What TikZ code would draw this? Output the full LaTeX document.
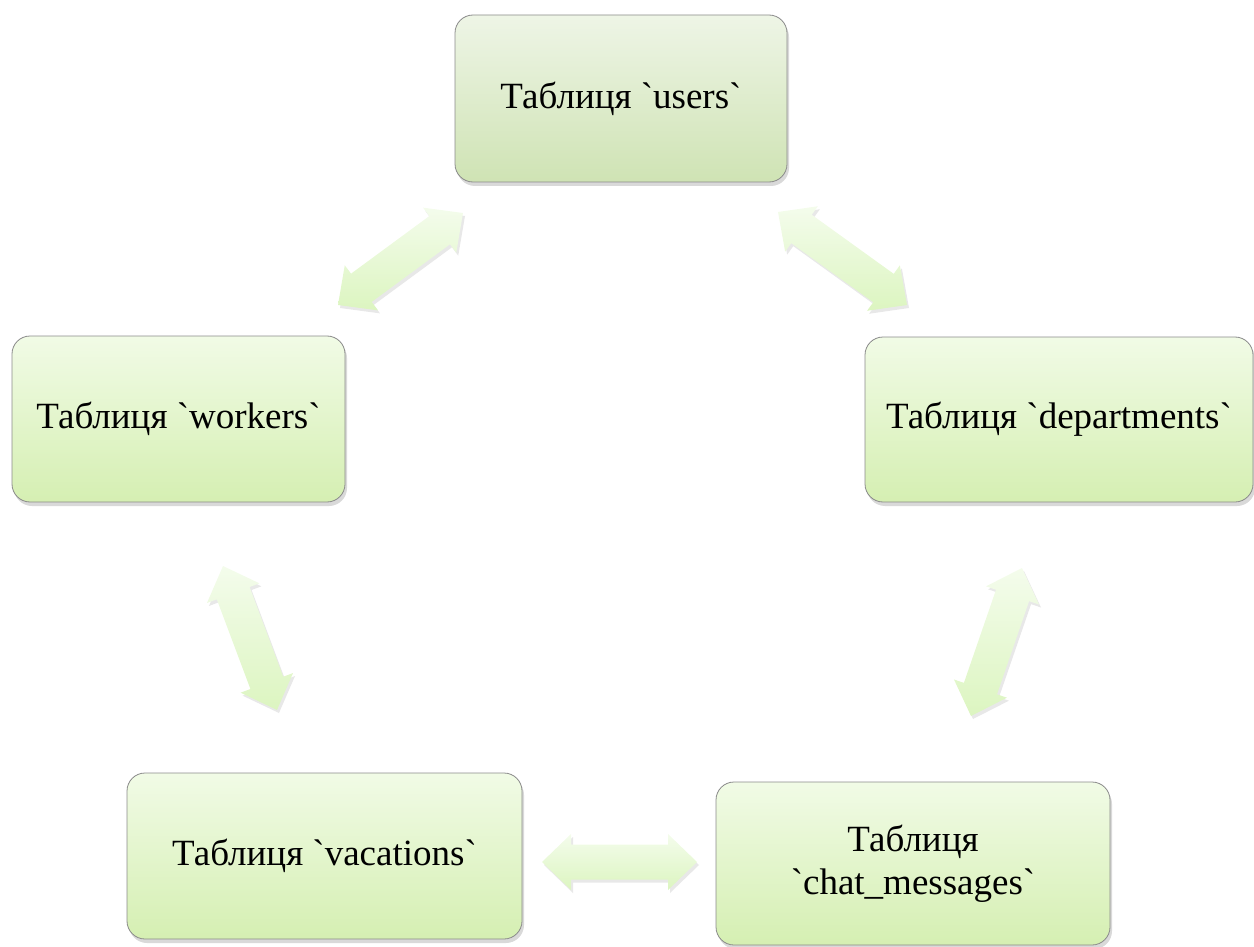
\documentclass[tikz,border=0pt]{standalone}
\usepackage{fontspec}
\setmainfont{Liberation Serif}[Ligatures=TeXOff]
\usetikzlibrary{calc,shadows}
\definecolor{boxline}{HTML}{8A8A8A}
\definecolor{boxtop}{HTML}{F1FBE6}
\definecolor{boxbot}{HTML}{D5EFB2}
\definecolor{utop}{HTML}{EEF5E6}
\definecolor{ubot}{HTML}{CFE3B4}
\definecolor{arrtop}{HTML}{F4FCEC}
\definecolor{arrbot}{HTML}{DCF5C0}
\newcommand{\bq}{\symbol{96}}
\newcommand{\blockdarrow}[2]{%
  \path[darr] (#1)
    -- ($(#1)!29pt!(#2)!28pt!90:(#2)$)
    -- ($(#1)!29pt!(#2)!17.5pt!90:(#2)$)
    -- ($(#2)!29pt!(#1)!17.5pt!-90:(#1)$)
    -- ($(#2)!29pt!(#1)!28pt!-90:(#1)$)
    -- (#2)
    -- ($(#2)!29pt!(#1)!28pt!90:(#1)$)
    -- ($(#2)!29pt!(#1)!17.5pt!90:(#1)$)
    -- ($(#1)!29pt!(#2)!17.5pt!-90:(#2)$)
    -- ($(#1)!29pt!(#2)!28pt!-90:(#2)$)
    -- cycle;}
\tikzset{
  tbl/.style={draw=boxline, line width=0.8pt, rounded corners=18pt,
    top color=boxtop, bottom color=boxbot,
    drop shadow={shadow xshift=2pt, shadow yshift=-4pt, opacity=0.3},
    font=\fontsize{37}{43}\selectfont, align=center, inner sep=0pt},
  darr/.style={top color=arrtop, bottom color=arrbot,
    drop shadow={shadow xshift=2pt, shadow yshift=-3pt, opacity=0.18}},
}
\begin{document}
\begin{tikzpicture}[x=1pt,y=-1pt]
\useasboundingbox (0,0) rectangle (1254,947);
\node[tbl, top color=utop, bottom color=ubot, minimum width=332pt, minimum height=167pt] (users) at (621,98.5) {Таблиця \bq users\bq};
\node[tbl, minimum width=333pt, minimum height=166pt] (workers) at (178.5,419) {Таблиця \bq workers\bq};
\node[tbl, minimum width=388pt, minimum height=165pt] (departments) at (1059,419.5) {Таблиця \bq departments\bq};
\node[tbl, minimum width=395pt, minimum height=166pt] (vacations) at (324.5,856) {Таблиця \bq vacations\bq};
\node[tbl, minimum width=394pt, minimum height=163pt] (chat) at (913,863.5) {Таблиця\\\bq chat\_messages\bq};
\coordinate (uwA) at (463,213); \coordinate (uwB) at (338,305);
\coordinate (udA) at (778,212); \coordinate (udB) at (907,305);
\coordinate (wvA) at (223,566); \coordinate (wvB) at (277,710);
\coordinate (dcA) at (1022,568); \coordinate (dcB) at (971,716);
\coordinate (vcA) at (542,862); \coordinate (vcB) at (697,862);
\blockdarrow{uwA}{uwB}
\blockdarrow{udA}{udB}
\blockdarrow{wvA}{wvB}
\blockdarrow{dcA}{dcB}
\blockdarrow{vcA}{vcB}
\end{tikzpicture}
\end{document}
